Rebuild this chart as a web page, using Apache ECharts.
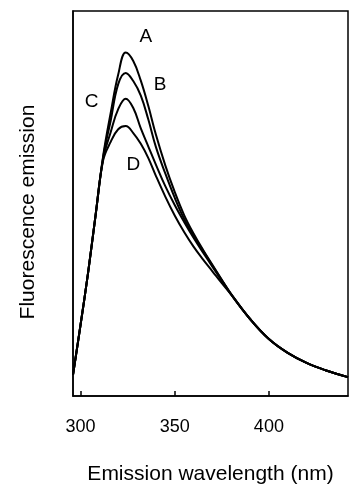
<!DOCTYPE html>
<html>
<head>
  <meta charset="utf-8">
  <title>Fluorescence emission</title>
  <script src="https://cdn.jsdelivr.net/npm/echarts@6/dist/echarts.min.js"></script>
  <style>
    html, body { margin: 0; padding: 0; background: #fff; }
  </style>
</head>
<body>
  <div id="main" style="width:349px;height:490px;"></div>
  <script type="text/javascript">
    // wavelengths (nm) shared by all four spectra
    var wavelengths = [296, 300, 304, 308, 312, 316, 320, 324, 328, 332, 336, 340, 345, 350, 355, 360, 365, 370, 375, 380, 390, 400, 410, 420, 430, 442];

    // emission, arbitrary units (0..100 of the plot height)
    var curveA = [5.5, 18.5, 32.0, 47.0, 62.3, 73.5, 83.5, 89.2, 87.0, 81.9, 75.3, 67.9, 59.9, 53.0, 47.0, 42.2, 38.0, 34.1, 30.2, 26.5, 20.0, 14.8, 11.2, 8.6, 6.7, 4.9];
    var curveB = [5.5, 18.5, 32.0, 47.0, 62.0, 71.5, 81.0, 83.9, 81.8, 78.0, 71.8, 64.7, 57.8, 51.5, 46.0, 41.6, 37.8, 33.9, 30.1, 26.4, 20.0, 14.8, 11.2, 8.6, 6.7, 4.9];
    var curveC = [5.5, 18.5, 32.0, 47.0, 61.6, 68.5, 74.5, 77.2, 74.8, 69.5, 64.8, 60.1, 54.5, 49.6, 45.2, 41.1, 37.3, 33.6, 29.9, 26.3, 20.0, 14.8, 11.2, 8.6, 6.7, 4.9];
    var curveD = [5.5, 18.5, 32.0, 47.0, 61.2, 66.0, 69.3, 70.1, 68.3, 65.5, 61.8, 57.2, 51.8, 46.9, 42.6, 38.8, 35.5, 32.4, 29.3, 26.3, 20.0, 14.8, 11.2, 8.6, 6.7, 4.9];

    // curve letters and where they sit (data coords)
    var labelNames = ['A', 'B', 'C', 'D'];
    var labelX = [334.7, 342.2, 305.9, 328.0];
    var labelY = [93.3, 80.8, 76.3, 60.1];

    var xTicks = [300, 350, 400];

    function pairs(ys) {
      return wavelengths.map(function (w, i) { return [w, ys[i]]; });
    }

    function curve(name, ys) {
      return {
        name: name,
        type: 'line',
        data: pairs(ys),
        smooth: 0.4,
        symbol: 'none',
        lineStyle: { color: '#000', width: 2 },
        z: 3
      };
    }

    var myChart = echarts.init(document.getElementById('main'));

    var option = {
      animation: false,
      textStyle: { fontFamily: 'Liberation Sans, Arial, sans-serif', color: '#000' },
      grid: {
        left: 73,
        top: 11,
        right: 1,
        bottom: 93,
        show: true,
        borderColor: '#000',
        borderWidth: 1.5
      },
      xAxis: {
        type: 'value',
        min: 296,
        max: 442,
        name: 'Emission wavelength (nm)',
        nameLocation: 'middle',
        nameGap: 68,
        nameTextStyle: { fontSize: 21, color: '#000' },
        axisLine: { show: true, lineStyle: { color: '#000', width: 1.5 } },
        axisTick: { show: true, inside: true, length: 5, customValues: xTicks, lineStyle: { color: '#000', width: 1.5 } },
        axisLabel: { customValues: xTicks, fontSize: 18, color: '#000', margin: 22 },
        splitLine: { show: false }
      },
      yAxis: {
        type: 'value',
        min: 0,
        max: 100,
        name: 'Fluorescence emission',
        nameLocation: 'middle',
        nameGap: 34,
        nameTextStyle: { fontSize: 21, color: '#000', padding: [0, 17, 0, 0] },
        axisLine: { show: true, lineStyle: { color: '#000', width: 1.5 } },
        axisTick: { show: false },
        axisLabel: { show: false },
        splitLine: { show: false }
      },
      series: [
        curve('A', curveA),
        curve('B', curveB),
        curve('C', curveC),
        curve('D', curveD),
        {
          name: 'labels',
          type: 'scatter',
          symbolSize: 0,
          itemStyle: { opacity: 1 },
          data: labelNames.map(function (n, i) { return { name: n, value: [labelX[i], labelY[i]] }; }),
          label: {
            show: true,
            position: 'inside',
            formatter: '{b}',
            fontSize: 19,
            color: '#000'
          },
          silent: true
        }
      ]
    };

    myChart.setOption(option);
  </script>
</body>
</html>
